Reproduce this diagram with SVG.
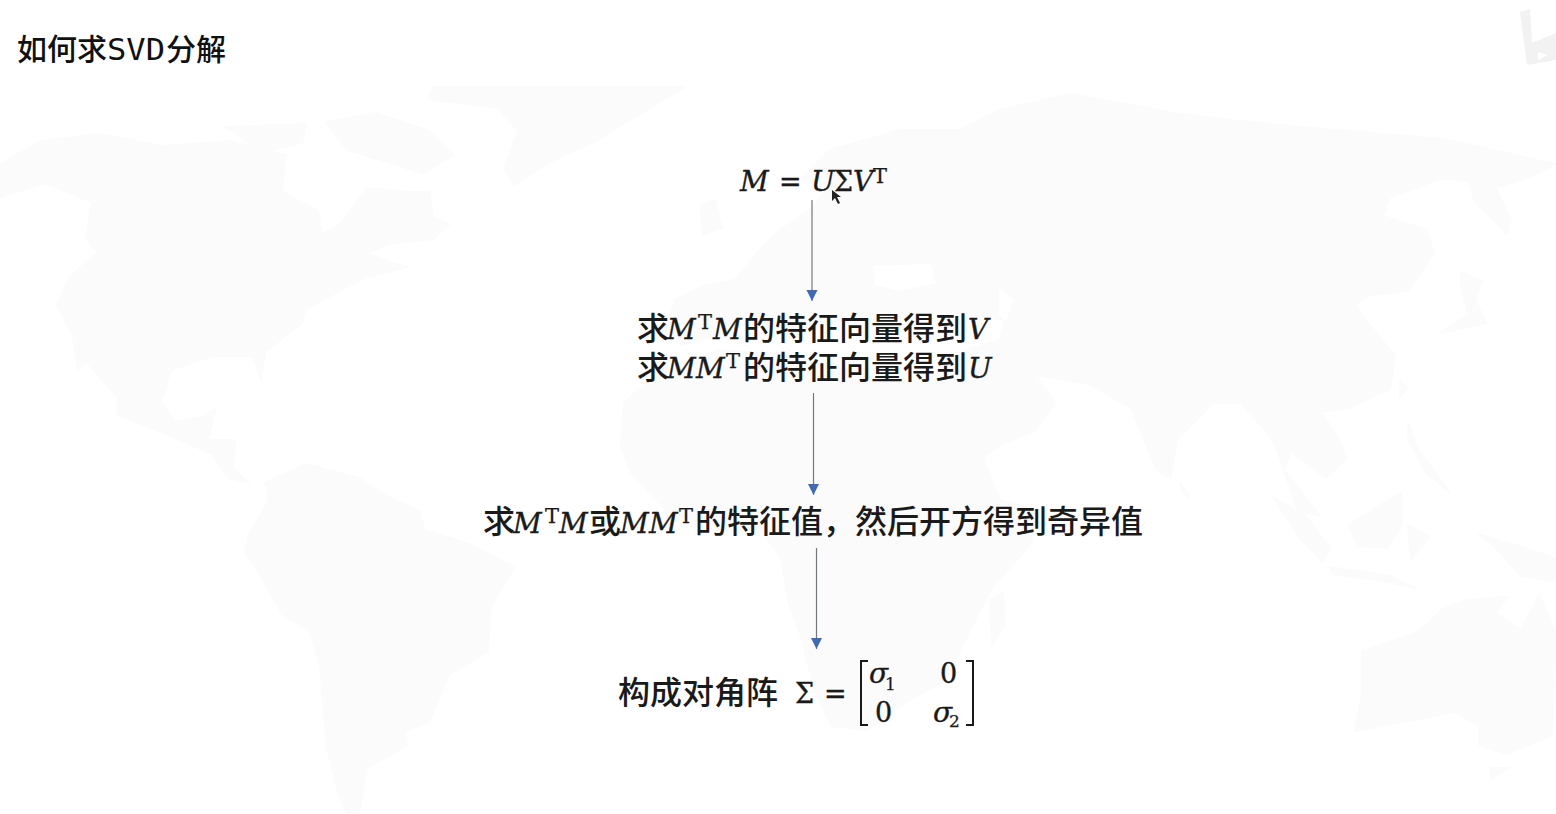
<svg xmlns="http://www.w3.org/2000/svg" width="1556" height="814" viewBox="0 0 1556 814">
<style>
.cjk{font-family:"Noto Sans CJK SC","Noto Sans",sans-serif;font-size:32px;font-weight:500;fill:#1a1a1a}
.ttl{font-family:"Noto Sans CJK SC","Noto Sans",sans-serif;font-size:30px;font-weight:500;fill:#111}
.m{font-family:"DejaVu Serif",serif;font-style:italic;font-size:28px;fill:#1a1a1a;stroke:#1a1a1a;stroke-width:.35}
.r{font-family:"DejaVu Serif",serif;font-size:27px;fill:#1a1a1a;stroke:#1a1a1a;stroke-width:.35}
.sup{font-family:"DejaVu Serif",serif;font-size:21px;fill:#1a1a1a;stroke:#1a1a1a;stroke-width:.25}
.sub{font-family:"DejaVu Serif",serif;font-size:17px;fill:#1a1a1a;stroke:#1a1a1a;stroke-width:.25}
.map{fill:#fbfbfb}
.hole{fill:#fff}
.conn{stroke:#737880;stroke-width:1.2;fill:none;marker-end:url(#head)}
.br{stroke:#1a1a1a;stroke-width:2;fill:none}
</style>
<defs>
<marker id="head" markerUnits="userSpaceOnUse" markerWidth="12" markerHeight="12" refX="11" refY="6" orient="auto"><path d="M0 0.500L11 6L0 11.500Z" fill="#4169b4"/></marker>
</defs>
<rect width="1556" height="814" fill="#fff"/>
<g id="map" stroke="#fbfbfb" stroke-width="2" stroke-linejoin="round">
<path class="map" d="M0 164L41 141L98 134L163 146L229 141L286 155L282 192L318 211L322 234L339 225L367 188L408 192L429 192L433 216L449 225L433 239L388 244L367 253L392 263L408 267L367 277L339 291L306 309L302 323L265 352L261 380L253 356L212 356L171 370L161 403L176 422L204 417L216 408L208 440L235 440L233 469L249 483L229 478L212 454L171 436L118 415L118 398L86 361L78 370L73 337L57 305L69 277L98 253L86 239L92 202L45 183L0 197Z"/>
<path class="map" d="M224 127L306 124L302 143L261 152L233 131Z"/>
<path class="map" d="M326 122L375 113L429 131L453 155L424 174L388 162L347 150Z"/>
<path class="map" d="M433 87L685 87L650 108L596 141L560 157L547 164L514 185L504 169L518 131L498 108L429 99Z"/>
<path class="map" d="M265 483L306 464L359 478L388 497L420 511L424 530L469 544L514 567L490 609L488 651L449 675L429 722L404 731L408 745L367 768L359 814L347 814L339 796L327 749L320 665L310 632L282 614L261 576L245 553L249 534L269 501Z"/>
<path class="map" d="M1071 94L1174 113L1248 122L1301 127L1443 139L1556 164L1532 176L1496 188L1511 220L1507 234L1475 202L1468 181L1443 178L1390 197L1383 216L1426 230L1434 253L1408 291L1369 295L1355 305L1372 328L1395 356L1390 389L1348 408L1321 412L1340 440L1346 459L1326 478L1291 452L1284 469L1319 515L1298 511L1277 450L1270 436L1241 403L1213 403L1177 440L1170 478L1156 469L1131 408L1106 394L1089 384L1035 375L1055 403L1035 431L1000 445L965 470L940 420L925 385L950 355L1000 340L1005 320L935 310L880 340L840 320L790 340L760 320L700 340L680 345L665 330L675 300L705 285L735 280L760 250L780 230L810 210L830 185L800 180L830 150L900 130L960 130L1000 110Z"/>
<path class="map" d="M624 403L660 370L720 350L790 355L850 370L930 385L960 400L980 450L1000 500L1040 510L1030 545L990 590L960 650L946 680L910 700L867 730L831 726L814 689L803 642L789 604L781 557L760 529L721 529L667 511L631 473L621 445Z"/>
<path class="map" d="M990 600L1003 592L1005 625L992 645Z"/>
<path class="map" d="M700 205L715 200L722 228L703 235Z"/>
<path class="map" d="M1273 497L1305 515L1330 548L1323 562L1301 539Z"/>
<path class="map" d="M1349 525L1401 492L1402 525L1387 548L1358 546Z"/>
<path class="map" d="M1330 567L1390 576L1415 588L1383 581L1333 574Z"/>
<path class="map" d="M1408 525L1429 536L1411 560Z"/>
<path class="map" d="M1408 422L1418 450L1450 492L1426 473L1408 440Z"/>
<path class="map" d="M1479 534L1556 558L1556 581L1521 576L1496 548Z"/>
<path class="map" d="M1362 651L1418 632L1443 609L1468 600L1507 597L1496 614L1521 630L1539 595L1556 632L1552 735L1507 754L1479 745L1479 726L1454 712L1408 721L1355 731L1362 693Z"/>
<path class="map" d="M1491 768L1509 768L1491 780Z"/>
<path class="map" d="M1461 272L1482 281L1475 300L1486 323L1440 333L1468 314L1461 286Z"/>
<path class="map" d="M1180 482L1190 498L1182 492Z"/>
<path class="map" d="M1400 380L1407 389L1400 397Z"/>
<path class="hole" stroke="#fff" d="M874 267L930 265L935 282L900 290L876 284Z"/>
<path class="hole" stroke="#fff" d="M1000 290L1012 300L1006 320L1000 315Z"/>
<path d="M1520 12L1530 9L1532 43L1556 33V60L1527 65Z" fill="#f2f2f2" stroke="none"/>
<path d="M1538 52L1548 55L1538 60Z" fill="#fff" stroke="none"/>
</g>
<g id="connectors">
<line class="conn" x1="812" y1="200" x2="812" y2="301"/>
<line class="conn" x1="813.500" y1="393" x2="813.500" y2="495"/>
<line class="conn" x1="816.500" y1="548" x2="816.500" y2="649"/>
</g>
<g id="title">
<text class="ttl" x="17" y="60">如何求</text>
<text x="107" y="60" textLength="58" lengthAdjust="spacingAndGlyphs" style="font-family:'DejaVu Sans Mono',monospace;font-size:30px;font-weight:500;fill:#111">SVD</text>
<text class="ttl" x="166" y="60">分解</text>
</g>
<g id="node-svd">
<text class="m" x="740" y="191">M</text>
<text class="r" x="779" y="191">=</text>
<text class="m" x="811" y="191">U</text>
<text class="r" x="834" y="191">Σ</text>
<text class="m" x="853" y="191">V</text>
<text class="sup" x="873" y="183">T</text>
<path d="M832 190L832 201L835 198L838 204L840 203L837 197L841 197Z" fill="#222"/>
</g>
<g id="node-eigenvectors">
<text class="cjk" x="637" y="340">求</text>
<text class="m" x="667" y="339">M</text>
<text class="sup" x="698" y="329">T</text>
<text class="m" x="713" y="339">M</text>
<text class="cjk" x="743" y="340">的特征向量得到</text>
<text class="m" x="968" y="339">V</text>
<text class="cjk" x="637" y="379">求</text>
<text class="m" x="667" y="378">M</text>
<text class="m" x="696" y="378">M</text>
<text class="sup" x="726" y="368">T</text>
<text class="cjk" x="743" y="379">的特征向量得到</text>
<text class="m" x="968" y="378">U</text>
</g>
<g id="node-singular">
<text class="cjk" x="483" y="533">求</text>
<text class="m" x="513" y="533">M</text>
<text class="sup" x="545" y="523">T</text>
<text class="m" x="559" y="533">M</text>
<text class="cjk" x="589" y="533">或</text>
<text class="m" x="620" y="533">M</text>
<text class="m" x="649" y="533">M</text>
<text class="sup" x="679" y="523">T</text>
<text class="cjk" x="695" y="533">的特征值，然后开方得到奇异值</text>
</g>
<g id="node-diagonal">
<text class="cjk" x="618" y="704">构成对角阵</text>
<text class="r" x="795" y="703">Σ</text>
<text class="r" x="824" y="703">=</text>
<path class="br" d="M868 661H861V725H868"/>
<path class="br" d="M966 661H973V725H966"/>
<text class="m" x="869" y="683">σ</text>
<text class="sub" x="885" y="690">1</text>
<text class="r" x="940" y="683">0</text>
<text class="r" x="875" y="722">0</text>
<text class="m" x="933" y="722">σ</text>
<text class="sub" x="949" y="727">2</text>
</g>
</svg>
